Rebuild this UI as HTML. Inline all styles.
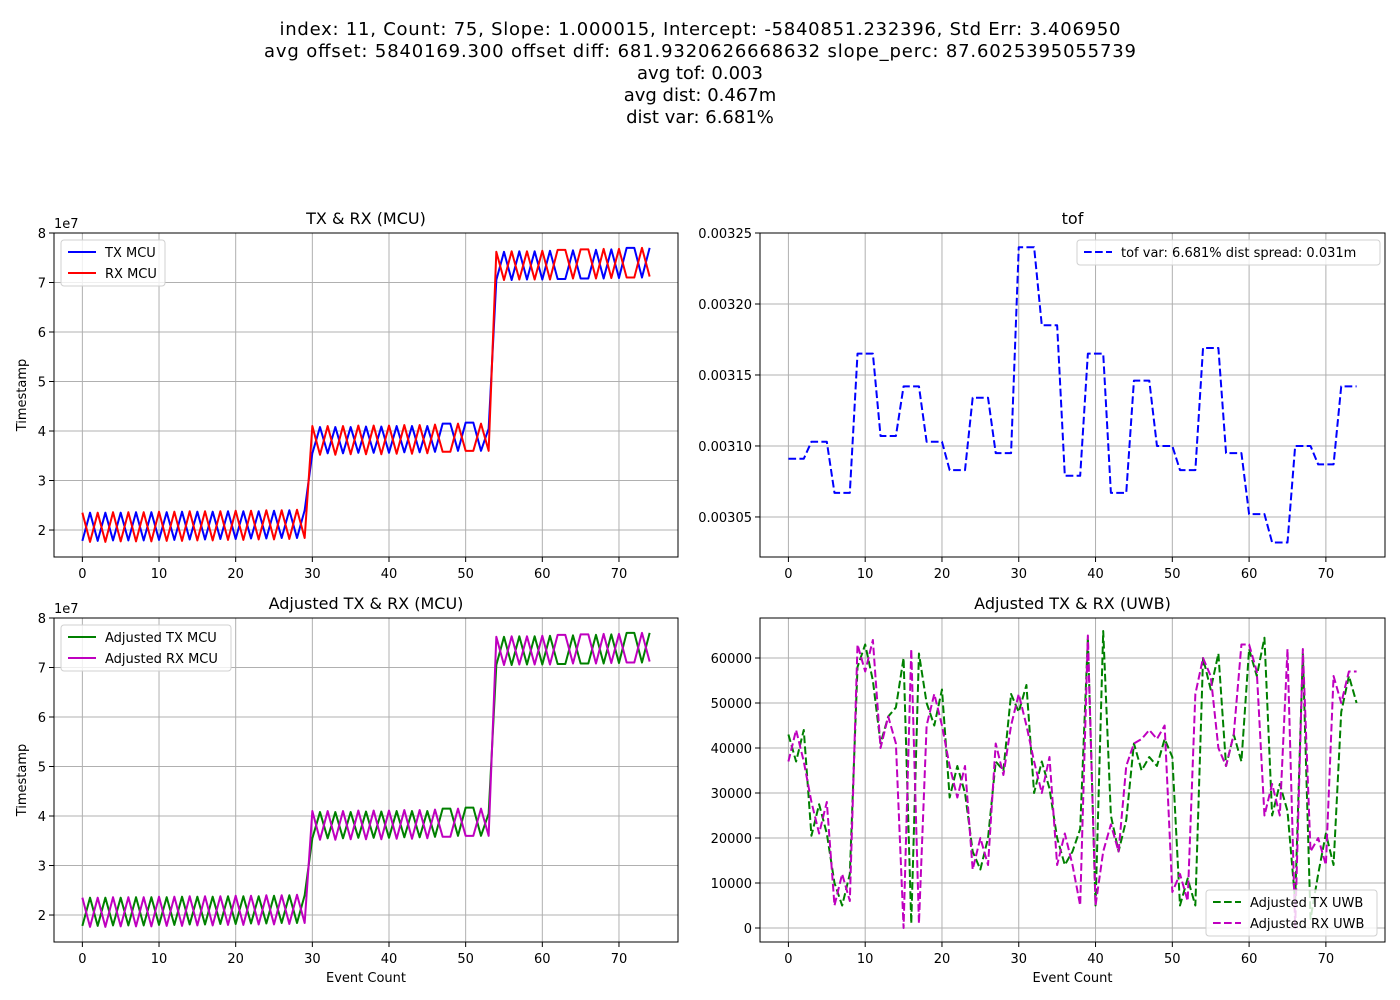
<!DOCTYPE html>
<html><head><meta charset="utf-8"><style>
body{margin:0;background:#fff;}
svg{display:block;font-family:"DejaVu Sans","Liberation Sans",sans-serif;}
</style></head><body>
<svg id="fig" width="1400" height="1000" viewBox="0 0 1400 1000" xmlns="http://www.w3.org/2000/svg">
<rect width="1400" height="1000" fill="#fff"/>
<g font-size="18" text-anchor="middle" fill="#000">
<text x="700" y="35" textLength="841">index: 11, Count: 75, Slope: 1.000015, Intercept: -5840851.232396, Std Err: 3.406950</text>
<text x="700" y="57" textLength="872">avg offset: 5840169.300 offset diff: 681.9320626668632 slope_perc: 87.6025395055739</text>
<text x="700" y="79">avg tof: 0.003</text>
<text x="700" y="101">avg dist: 0.467m</text>
<text x="700" y="123">dist var: 6.681%</text>
</g>
</svg>
<script>
const txMcu=[1.78,2.35,1.78,2.35,1.79,2.35,1.79,2.36,1.79,2.36,1.8,2.36,1.8,2.37,1.81,2.37,1.81,2.37,1.82,2.38,1.82,2.38,1.83,2.38,1.83,2.39,1.84,2.4,1.84,2.4,
3.55,4.08,3.55,4.08,3.55,4.08,3.56,4.09,3.56,4.09,3.56,4.1,3.57,4.1,3.57,4.1,3.58,4.15,4.15,3.6,4.17,4.17,3.6,4.05,
7.05,7.62,7.05,7.63,7.06,7.63,7.06,7.64,7.07,7.07,7.65,7.08,7.08,7.66,7.08,7.67,7.09,7.7,7.7,7.1,7.7];
const rxMcu=[2.35,1.76,2.35,1.76,2.36,1.77,2.36,1.77,2.36,1.77,2.37,1.78,2.37,1.78,2.38,1.79,2.38,1.79,2.38,1.8,2.39,1.8,2.39,1.81,2.4,1.81,2.4,1.82,2.41,1.84,
4.1,3.52,4.1,3.52,4.1,3.53,4.11,3.53,4.11,3.53,4.11,3.54,4.12,3.54,4.12,3.55,4.13,3.58,3.58,4.15,3.6,3.6,4.15,3.6,
7.62,7.05,7.63,7.06,7.63,7.06,7.64,7.06,7.66,7.66,7.08,7.67,7.67,7.08,7.68,7.09,7.68,7.1,7.1,7.7,7.12];
const tofVals=[3.091,3.091,3.091,3.103,3.103,3.103,3.067,3.067,3.067,3.165,3.165,3.165,3.107,3.107,3.107,3.142,3.142,3.142,3.103,3.103,3.103,3.083,3.083,3.083,3.134,3.134,3.134,3.095,3.095,3.095,3.24,3.24,3.24,3.185,3.185,3.185,3.079,3.079,3.079,3.165,3.165,3.165,3.067,3.067,3.067,3.146,3.146,3.146,3.1,3.1,3.1,3.083,3.083,3.083,3.169,3.169,3.169,3.095,3.095,3.095,3.052,3.052,3.052,3.032,3.032,3.032,3.1,3.1,3.1,3.087,3.087,3.087,3.142,3.142,3.142];
const txUwb=[43,37,44,20.5,27.5,21,10,5,12,58,63,55,41,47,49,60,1,61,50,45,53,29,36,30,17,13,20,37,35,52,48,54,30,37,31,20,14,17,22,64.5,5,66,25,17,24,41,35,38,36,42,38,5,11,5,60,53,61,36,43,37,62,56,64.5,25,32,26,6,61,2,12,21,14,48,56,50];
const rxUwb=[37,44,37,28,21,28,5,12,6,63,57,64,40,47,41,0,62,1,45,52,45,36,29,36,13,20,14,41,34,45,52,45,37,30,38,14,21,14,5,65,5,17,23,17,36,41,42,44,42,45,8,12,6,52,60,56,40,36,43,63,63,57,25,32,25,62,0,62,17,20,14,56,50,57,57];
const xTicks=[0,10,20,30,40,50,60,70];
const mcuTicks=[2,3,4,5,6,7,8];
const tofTicks=[3.05,3.10,3.15,3.20,3.25];
const tofTickLabels=["0.00305","0.00310","0.00315","0.00320","0.00325"];
const uwbTicks=[0,10000,20000,30000,40000,50000,60000];

const NS="http://www.w3.org/2000/svg";
const fig=document.getElementById('fig');
function mk(tag,attrs,parent){const e=document.createElementNS(NS,tag);for(const k in attrs)e.setAttribute(k,attrs[k]);(parent||fig).appendChild(e);return e;}

function axes(name,x0,y0,x1,y1,ymin,ymax){
  const g=mk('g',{});
  
  
  const xs=v=>x0+(v+3.7)/(81.4)*(x1-x0);
  const ys=v=>y1-(v-ymin)/(ymax-ymin)*(y1-y0);
  return {g,xs,ys,x0,y0,x1,y1};
}
function grid(ax,yt,ylab){
  const gg=mk('g',{},ax.g);
  
  
  xTicks.forEach(t=>{const x=ax.xs(t);mk('line',{x1:x,x2:x,y1:ax.y0,y2:ax.y1,stroke:'#b0b0b0','stroke-width':1},gg);
    mk('line',{x1:x,x2:x,y1:ax.y1,y2:ax.y1+5,stroke:'#000','stroke-width':1},gg);
    const t2=mk('text',{x:x,y:ax.y1+21,'font-size':13,'text-anchor':'middle'},gg);t2.textContent=t;
    
    });
  yt.forEach((t,i)=>{const y=ax.ys(t);mk('line',{x1:ax.x0,x2:ax.x1,y1:y,y2:y,stroke:'#b0b0b0','stroke-width':1},gg);
    mk('line',{x1:ax.x0-5,x2:ax.x0,y1:y,y2:y,stroke:'#000','stroke-width':1},gg);
    const t2=mk('text',{x:ax.x0-8,y:y+5,'font-size':13,'text-anchor':'end'},gg);t2.textContent=ylab[i];
    
    });
}
function frame(ax){mk('rect',{x:ax.x0,y:ax.y0,width:ax.x1-ax.x0,height:ax.y1-ax.y0,fill:'none',stroke:'#000','stroke-width':1},ax.g);}
function series(ax,vals,scale,color,dash,name){
  const pts=vals.map((v,i)=>ax.xs(i).toFixed(2)+','+ax.ys(v*scale).toFixed(2)).join(' ');
  const p=mk('polyline',{points:pts,fill:'none',stroke:color,'stroke-width':2,'stroke-linejoin':'round'},ax.g);
  if(dash)p.setAttribute('stroke-dasharray','7.7,3.3');
  
  
}
function title(ax,txt){const t=mk('text',{x:(ax.x0+ax.x1)/2,y:ax.y0-9,'font-size':16,'text-anchor':'middle'},ax.g);t.textContent=txt;
  
  }
function legend(ax,x,y,w,entries,dash){
  const lg=mk('g',{},ax.g);
  
  
  mk('rect',{x:x,y:y,width:w,height:entries.length*21+4,rx:3,fill:'#fff','fill-opacity':0.8,stroke:'#d0d0d0'},lg);
  entries.forEach((e,i)=>{const yy=y+12+i*21;
    const l=mk('line',{x1:x+7,x2:x+35,y1:yy,y2:yy,stroke:e[1],'stroke-width':2},lg);
    if(dash)l.setAttribute('stroke-dasharray','7.7,3.3');
    const t=mk('text',{x:x+44,y:yy+5,'font-size':13},lg);t.textContent=e[0];
    
    });
}
function ylabel(ax,x,txt){const t=mk('text',{x:x,y:(ax.y0+ax.y1)/2,'font-size':13,'text-anchor':'middle',transform:`rotate(-90 ${x} ${(ax.y0+ax.y1)/2})`},ax.g);t.textContent=txt;
  
  }
function xlabel(ax,txt){const t=mk('text',{x:(ax.x0+ax.x1)/2,y:ax.y1+40,'font-size':13,'text-anchor':'middle'},ax.g);t.textContent=txt;
  
  }
function offset(ax){const t=mk('text',{x:ax.x0,y:ax.y0-5,'font-size':13},ax.g);t.textContent='1e7';
  
  }

const a1=axes('mcu-chart',54,233,678,557,1.455,8.0);
grid(a1,mcuTicks,mcuTicks.map(String));
series(a1,txMcu,1,'#0000ff',false,'tx-mcu-line');
series(a1,rxMcu,1,'#ff0000',false,'rx-mcu-line');
frame(a1);title(a1,'TX & RX (MCU)');offset(a1);ylabel(a1,26,'Timestamp');
legend(a1,61,240,104,[['TX MCU','#0000ff'],['RX MCU','#ff0000']],false);

const a2=axes('tof-chart',760,233,1385,557,3.0218,3.25);
grid(a2,tofTicks,tofTickLabels);
series(a2,tofVals,1,'#0000ff',true,'tof-line');
frame(a2);title(a2,'tof');
legend(a2,1077,240,303,[['tof var: 6.681% dist spread: 0.031m','#0000ff']],true);

const a3=axes('adjusted-mcu-chart',54,618,678,942,1.455,8.0);
grid(a3,mcuTicks,mcuTicks.map(String));
series(a3,txMcu,1,'#008000',false,'adjusted-tx-mcu-line');
series(a3,rxMcu,1,'#bf00bf',false,'adjusted-rx-mcu-line');
frame(a3);title(a3,'Adjusted TX & RX (MCU)');offset(a3);ylabel(a3,26,'Timestamp');xlabel(a3,'Event Count');
legend(a3,61,625,170,[['Adjusted TX MCU','#008000'],['Adjusted RX MCU','#bf00bf']],false);

const a4=axes('adjusted-uwb-chart',760,618,1385,942,-3111,68889);
grid(a4,uwbTicks,uwbTicks.map(String));
series(a4,txUwb,1000,'#008000',true,'adjusted-tx-uwb-line');
series(a4,rxUwb,1000,'#bf00bf',true,'adjusted-rx-uwb-line');
frame(a4);title(a4,'Adjusted TX & RX (UWB)');xlabel(a4,'Event Count');
legend(a4,1206,890,171,[['Adjusted TX UWB','#008000'],['Adjusted RX UWB','#bf00bf']],true);
</script>
</body></html>
